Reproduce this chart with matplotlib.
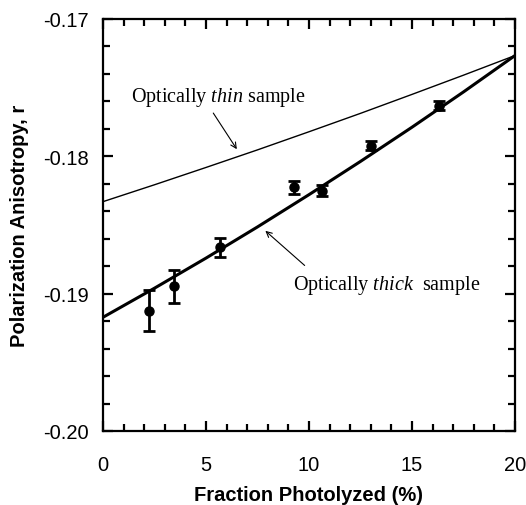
import matplotlib
matplotlib.use("Agg")
import matplotlib.pyplot as plt
from matplotlib.ticker import MultipleLocator, FixedLocator

plt.rcParams["mathtext.fontset"] = "custom"
plt.rcParams["mathtext.rm"] = "Liberation Serif"
plt.rcParams["mathtext.it"] = "Liberation Serif:italic"

# Data
frac = [2.25, 3.45, 5.68, 9.29, 10.62, 13.0, 16.33]
aniso = [-0.19124, -0.18946, -0.18662, -0.18226, -0.18250, -0.17922, -0.17631]
aniso_err = [0.0015, 0.0012, 0.0007, 0.0005, 0.0004, 0.00035, 0.00035]

curve_x = [0, 2.5, 5, 7.5, 10, 12.5, 15, 17.5, 20]
thick_r = [-0.19172, -0.18960, -0.18741, -0.18514, -0.18279, -0.18037, -0.17788, -0.17531, -0.17266]
thin_r = [-0.18330, -0.18207, -0.18081, -0.17953, -0.17821, -0.17687, -0.17549, -0.17409, -0.17266]

x_ticks = [0, 5, 10, 15, 20]
y_ticks = [-0.20, -0.19, -0.18, -0.17]
y_tick_labels = ["-0.20", "-0.19", "-0.18", "-0.17"]

fig = plt.figure(figsize=(5.26, 5.06), dpi=100)
ax = fig.add_axes([103/526, 1-432/506, 412/526, 412/506])

ax.plot(curve_x, thin_r, color="black", lw=1.0)
ax.plot(curve_x, thick_r, color="black", lw=2.2)
ax.errorbar(frac, aniso, yerr=aniso_err, fmt="o", color="black", ms=6.5,
            elinewidth=2, capsize=4, capthick=2)

ax.set_xlim(0, 20)
ax.set_ylim(-0.20, -0.17)
ax.xaxis.set_major_locator(FixedLocator(x_ticks))
ax.xaxis.set_minor_locator(MultipleLocator(1))
ax.yaxis.set_major_locator(FixedLocator(y_ticks))
ax.yaxis.set_minor_locator(MultipleLocator(0.002))
ax.set_yticklabels(y_tick_labels)
ax.set_xticklabels([str(v) for v in x_ticks])

for s in ax.spines.values():
    s.set_linewidth(1.6)
ax.tick_params(which="both", direction="in", top=True, right=True, width=1.6,
               labelsize=14.5, labelfontfamily="Liberation Sans")
ax.tick_params(which="major", length=7)
ax.tick_params(which="minor", length=5)
ax.tick_params(axis="x", which="major", pad=17)
ax.tick_params(axis="y", which="major", pad=10)

ax.set_xlabel("Fraction Photolyzed (%)", fontsize=14.5, fontweight="bold",
              family="Liberation Sans", labelpad=8)
ax.set_ylabel("Polarization Anisotropy, r", fontsize=14.5, fontweight="bold",
              family="Liberation Sans", labelpad=10)

ax.annotate("", xy=(6.57, -0.17965), xytext=(5.28, -0.17668),
            arrowprops=dict(arrowstyle="->", color="black", lw=0.8))
ax.text(1.36, -0.17561, "Optically $\\it{thin}$ sample", fontsize=14.5,
        family="Liberation Serif", va="center", ha="left")

ax.annotate("", xy=(7.78, -0.18529), xytext=(9.89, -0.18808),
            arrowprops=dict(arrowstyle="->", color="black", lw=0.8))
ax.text(9.24, -0.18930, "Optically $\\it{thick}$  sample", fontsize=14.5,
        family="Liberation Serif", va="center", ha="left")

fig.savefig("out.png", dpi=100)
